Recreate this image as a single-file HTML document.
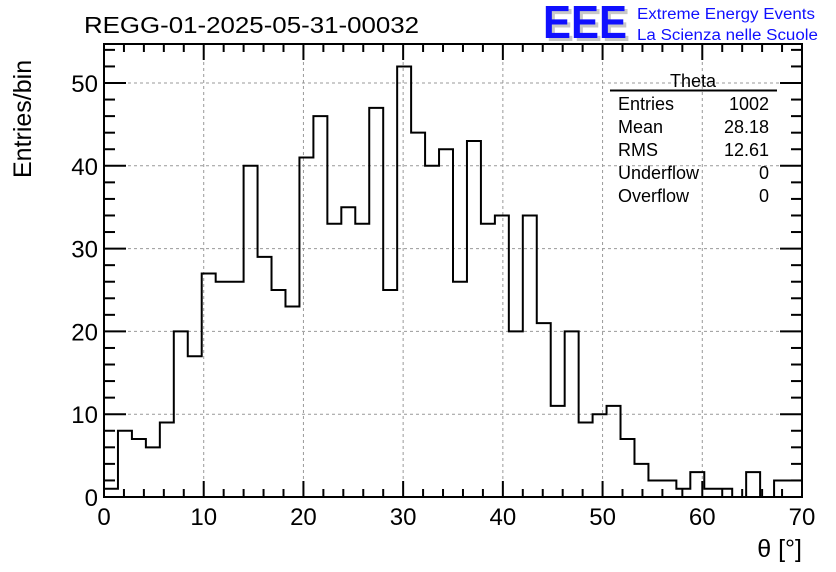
<!DOCTYPE html>
<html><head><meta charset="utf-8"><style>
html,body{margin:0;padding:0;background:#fff;}
svg{display:block;font-family:"Liberation Sans",sans-serif;}
</style></head><body>
<svg id="chart" width="836" height="572" viewBox="0 0 836 572" xmlns="http://www.w3.org/2000/svg">
<rect x="0" y="0" width="836" height="572" fill="#fff"/>
<text x="84" y="33" font-size="23" textLength="335" lengthAdjust="spacingAndGlyphs">REGG-01-2025-05-31-00032</text>
<g>
<text x="546" y="41" font-size="46" fill="#c8c8c8" font-weight="bold" textLength="84" lengthAdjust="spacingAndGlyphs">EEE</text>
<text x="543" y="38" font-size="46" fill="#1010ff" font-weight="bold" textLength="84" lengthAdjust="spacingAndGlyphs">EEE</text>
<text x="637" y="19" font-size="15.5" fill="#1010ff" textLength="178" lengthAdjust="spacingAndGlyphs">Extreme Energy Events</text>
<text x="637" y="40" font-size="15.5" fill="#1010ff" textLength="181" lengthAdjust="spacingAndGlyphs">La Scienza nelle Scuole</text>
</g>
<g id="grid"></g>
<g id="hist"></g>
<g id="axes"></g>
<text transform="translate(31,178) rotate(-90)" font-size="25">Entries/bin</text>
<text x="802" y="557" font-size="25" text-anchor="end">θ [°]</text>
<g font-size="18">
<text x="693" y="87" text-anchor="middle">Theta</text>
<line x1="610" y1="90.5" x2="777" y2="90.5" stroke="#000" stroke-width="2"/>
<text x="618" y="110">Entries</text><text x="769" y="110" text-anchor="end">1002</text>
<text x="618" y="133">Mean</text><text x="769" y="133" text-anchor="end">28.18</text>
<text x="618" y="156">RMS</text><text x="769" y="156" text-anchor="end">12.61</text>
<text x="618" y="179">Underflow</text><text x="769" y="179" text-anchor="end">0</text>
<text x="618" y="202">Overflow</text><text x="769" y="202" text-anchor="end">0</text>
</g>
</svg>
<script>
const counts = [1,8,7,6,9,20,17,27,26,26,40,29,25,23,41,46,33,35,33,47,25,52,44,40,42,26,43,33,34,20,34,21,11,20,9,10,11,7,4,2,2,1,3,1,1,0,3,0,2,2];
const binWidth = 1.4;
const xTicks = [0,10,20,30,40,50,60,70];
const yTicks = [0,10,20,30,40,50];
const X0=104, X1=802, Y0=497, YT=44;
const xmin=0, xmax=70, ymin=0, ymax=(Y0-YT)/8.28;
const sx = v => X0 + (v-xmin)/(xmax-xmin)*(X1-X0);
const sy = v => Y0 - (v-ymin)/(ymax-ymin)*(Y0-YT);
const NS="http://www.w3.org/2000/svg";
function mk(tag, attrs, parent){const e=document.createElementNS(NS,tag);for(const k in attrs)e.setAttribute(k,attrs[k]);parent.appendChild(e);return e;}
const grid=document.getElementById('grid'), hist=document.getElementById('hist'), axes=document.getElementById('axes');
xTicks.slice(1,-1).forEach(t=>{const l=mk('line',{x1:sx(t),x2:sx(t),y1:YT,y2:Y0,stroke:'#999','stroke-dasharray':'3,3','stroke-width':1},grid);

});
yTicks.slice(1).forEach(t=>{const l=mk('line',{x1:X0,x2:X1,y1:sy(t),y2:sy(t),stroke:'#999','stroke-dasharray':'3,3','stroke-width':1},grid);

});
let d='M'+sx(0)+','+sy(0);
counts.forEach((c,i)=>{d+=' L'+sx(i*binWidth)+','+sy(c)+' L'+sx((i+1)*binWidth)+','+sy(c);});
d+=' L'+sx(counts.length*binWidth)+','+sy(0);
const p=mk('path',{d:d,fill:'none',stroke:'#000','stroke-width':2},hist);


const fr=mk('rect',{x:X0,y:YT,width:X1-X0,height:Y0-YT,fill:'none',stroke:'#000','stroke-width':2},axes);


for(let v=0;v<=70;v+=2){const major=v%10===0;const len=major?16:8;
mk('line',{x1:sx(v),x2:sx(v),y1:Y0,y2:Y0-len,stroke:'#000','stroke-width':2},axes);
mk('line',{x1:sx(v),x2:sx(v),y1:YT,y2:YT+len,stroke:'#000','stroke-width':2},axes);}
for(let v=0;v<=54;v+=2){const major=v%10===0;const len=major?22:11;
mk('line',{x1:X0,x2:X0+len,y1:sy(v),y2:sy(v),stroke:'#000','stroke-width':2},axes);
mk('line',{x1:X1,x2:X1-len,y1:sy(v),y2:sy(v),stroke:'#000','stroke-width':2},axes);}
xTicks.forEach(t=>{const e=mk('text',{x:sx(t),y:Y0+28,'font-size':24,'text-anchor':'middle'},axes);e.textContent=t;

});
yTicks.forEach(t=>{const e=mk('text',{x:X0-6,y:sy(t)+9,'font-size':24,'text-anchor':'end'},axes);e.textContent=t;

});
</script>
</body></html>
